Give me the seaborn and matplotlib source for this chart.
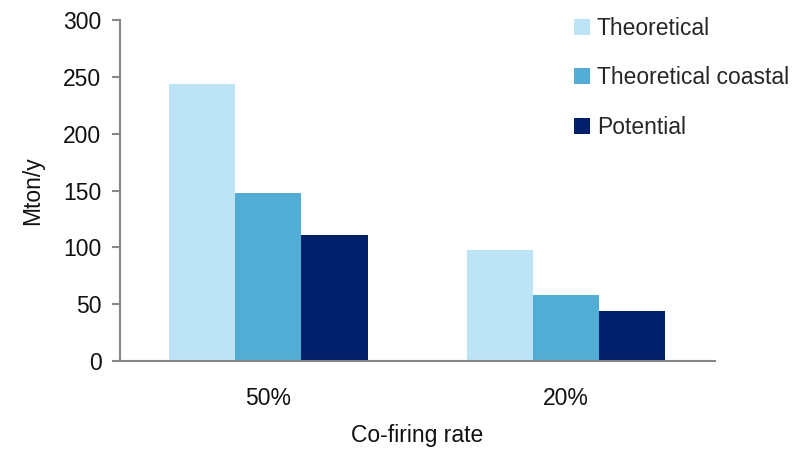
import matplotlib
matplotlib.use("Agg")
import matplotlib.pyplot as plt
import seaborn as sns
import pandas as pd
from matplotlib.patches import Patch

categories = ["50%", "20%"]
series = ["Theoretical", "Theoretical coastal", "Potential"]
theoretical = [244, 98]
theoretical_coastal = [148, 58.5]
potential = [111, 44]
colors = ["#BDE3F7", "#52ADD4", "#021F6B"]

rows = []
for name, vals in zip(series, [theoretical, theoretical_coastal, potential]):
    for c, v in zip(categories, vals):
        rows.append({"rate": c, "series": name, "value": v})
df = pd.DataFrame(rows)

sns.set_theme(style="white")
plt.rcParams['font.family'] = ['Liberation Sans', 'DejaVu Sans']

fig = plt.figure(figsize=(8.08, 4.5), dpi=100)
ax = fig.add_axes([119.5/808, 1-361/450, (715-119.5)/808, (361-20)/450])
sns.barplot(data=df, x="rate", y="value", hue="series", order=categories,
            hue_order=series, palette=colors, width=0.667, gap=0,
            saturation=1, ax=ax, legend=False, linewidth=0)

ax.set_ylim(0, 300)
ax.set_yticks(range(0, 301, 50))
ax.set_xlim(-0.5, 1.5)
for s in ["top", "right"]:
    ax.spines[s].set_visible(False)
for s in ["left", "bottom"]:
    ax.spines[s].set_color("#888888")
    ax.spines[s].set_linewidth(1.5)
ax.tick_params(axis="y", which="both", left=True, length=6, width=1.5, color="#888888",
               labelsize=16.5, pad=7, labelcolor="#111111")
ax.tick_params(axis="x", bottom=False, labelsize=16.5, pad=13, labelcolor="#111111")
ax.set_ylabel("Mton/y", fontsize=16.5, color="#111111", labelpad=14)
ax.set_xlabel("Co-firing rate", fontsize=16.5, color="#111111", labelpad=10)

handles = [Patch(facecolor=c, edgecolor="none") for c in colors]
fig.legend(handles, series, loc="upper left", bbox_to_anchor=(574/808, 1-17/450),
           frameon=False, fontsize=16.5, handlelength=0.7, handleheight=0.7,
           handletextpad=0.3, labelspacing=1.15, borderaxespad=0, borderpad=0)

fig.savefig("out.png", dpi=100)
